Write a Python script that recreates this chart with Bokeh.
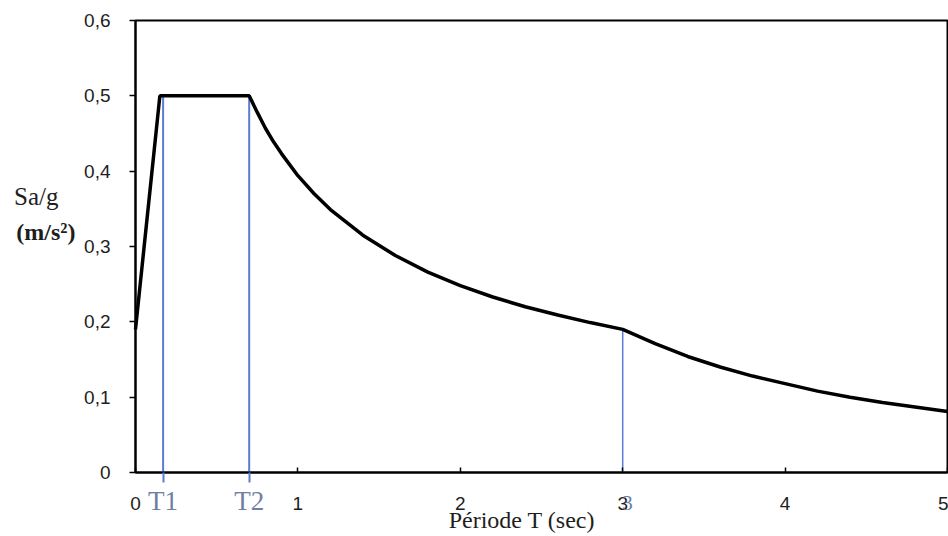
from bokeh.plotting import figure
from bokeh.models import Range1d, FixedTicker, CustomJSTickFormatter, ColumnDataSource, LinearAxis
from bokeh.embed import file_html
from bokeh.resources import INLINE

# --- data ---
periods = [0, 0.15, 0.70, 0.75, 0.8, 0.85, 0.9, 1.0, 1.1, 1.2, 1.4, 1.6, 1.8, 2.0,
           2.2, 2.4, 2.6, 2.8, 3.0, 3.2, 3.4, 3.6, 3.8, 4.0, 4.2, 4.4, 4.6, 4.8, 5.0]
sa_g = [0.19, 0.5, 0.5, 0.478, 0.457, 0.439, 0.423, 0.394, 0.370, 0.349, 0.315, 0.288,
        0.266, 0.248, 0.233, 0.220, 0.209, 0.199, 0.190, 0.171, 0.154, 0.140, 0.128,
        0.118, 0.108, 0.100, 0.093, 0.087, 0.081]

marker_T = [0.17, 0.70, 3.0]
marker_top = [0.5, 0.5, 0.19]
marker_width = [2, 2, 1.5]
marker_labels = {0.17: "T1", 0.70: "T2"}
extra_label = {3.03: "3"}

x_ticks = [0, 1, 2, 3, 4, 5]
y_ticks = [0, 0.1, 0.2, 0.3, 0.4, 0.5, 0.6]

x_title = {2.38: "Période T (sec)"}
y_title_1 = {0.366: "Sa/g"}
y_title_2 = {0.319: "(m/s²)"}

BLUE = "#5b7bd5"
LABEL_BLUE = "#6f7fa3"
TXT = "#1e1e1e"

# --- layout (pixels) ---
W, H = 948, 536
PLOT_L, PLOT_R, PLOT_T, PLOT_B = 135, 947, 20, 472
x0, x1 = x_ticks[0], x_ticks[-1]
y0, y1 = y_ticks[0], y_ticks[-1]
xs = (x1 - x0) / (PLOT_R - PLOT_L)
ys = (y1 - y0) / (PLOT_B - PLOT_T)
x_range = Range1d(x0 - PLOT_L * xs, x1 + (W - PLOT_R) * xs)
y_range = Range1d(y0 - (H - PLOT_B) * ys, y1 + PLOT_T * ys)

p = figure(width=W, height=H, output_backend="svg", toolbar_location=None,
           x_range=x_range, y_range=y_range,
           x_axis_location=None, y_axis_location=None,
           min_border=0)

p.background_fill_color = "white"
p.border_fill_color = "white"
p.outline_line_color = None
p.xgrid.visible = False
p.ygrid.visible = False

# plot-area box
p.quad(left=[x0], right=[x1], bottom=[y0], top=[y1], fill_color=None,
       line_color="black", line_width=2)

# blue marker lines
src = ColumnDataSource(dict(x=marker_T, y0=[0] * len(marker_T), y1=marker_top, w=marker_width))
p.segment(x0="x", y0="y0", x1="x", y1="y1", source=src, line_color=BLUE, line_width="w")

# spectrum curve
p.line(periods, sa_g, line_color="black", line_width=3.5)


def make_axis(side, ticks, overrides=None, standoff=0, font="Liberation Serif",
              font_size="24px", color=TXT, style="normal", tick_in=0, tick_out=0,
              tick_color=None, tick_width=1, line=False, formatter=None, bounds="auto"):
    ax = LinearAxis(fixed_location=0, bounds=bounds,
                    ticker=FixedTicker(ticks=ticks, minor_ticks=[]))
    if overrides:
        ax.major_label_overrides = overrides
    if formatter is not None:
        ax.formatter = formatter
    ax.axis_line_color = "black" if line else None
    ax.axis_line_width = 2
    ax.major_tick_in = tick_in
    ax.major_tick_out = tick_out
    ax.major_tick_line_color = tick_color
    ax.major_tick_line_width = tick_width
    ax.minor_tick_line_color = None
    ax.major_label_standoff = standoff
    ax.major_label_text_font = font
    ax.major_label_text_font_size = font_size
    ax.major_label_text_font_style = style
    ax.major_label_text_color = color
    if side in ("left", "right"):
        ax.major_label_orientation = "horizontal"
    p.add_layout(ax, side)
    return ax


# main axes
make_axis("below", x_ticks, standoff=24, font="Liberation Sans", font_size="19px",
          tick_in=5, tick_color="black", tick_width=1.5, line=True, bounds=(x0, x1))
make_axis("left", y_ticks, standoff=19, font="Liberation Sans", font_size="19px",
          tick_out=6, tick_color="black", tick_width=1.5, line=True, bounds=(y0, y1),
          formatter=CustomJSTickFormatter(code="""
              if (Math.abs(tick) < 1e-9) { return "0"; }
              return tick.toFixed(1).replace('.', ',');
          """))

# T1 / T2 labels with blue line extensions below the axis
make_axis("below", list(marker_labels.keys()), marker_labels, standoff=3,
          font_size="27px", color=LABEL_BLUE, tick_out=10, tick_color=BLUE, tick_width=2)
# blue "3" overlay
make_axis("below", list(extra_label.keys()), extra_label, standoff=23,
          font_size="21px", color=LABEL_BLUE)
# x axis title
make_axis("below", list(x_title.keys()), x_title, standoff=34, font_size="24px")
# y axis title (two lines)
make_axis("left", list(y_title_1.keys()), y_title_1, standoff=77, font_size="25px")
make_axis("left", list(y_title_2.keys()), y_title_2, standoff=60, font_size="24px",
          style="bold")

open("out.html", "w").write(file_html(p, INLINE))
